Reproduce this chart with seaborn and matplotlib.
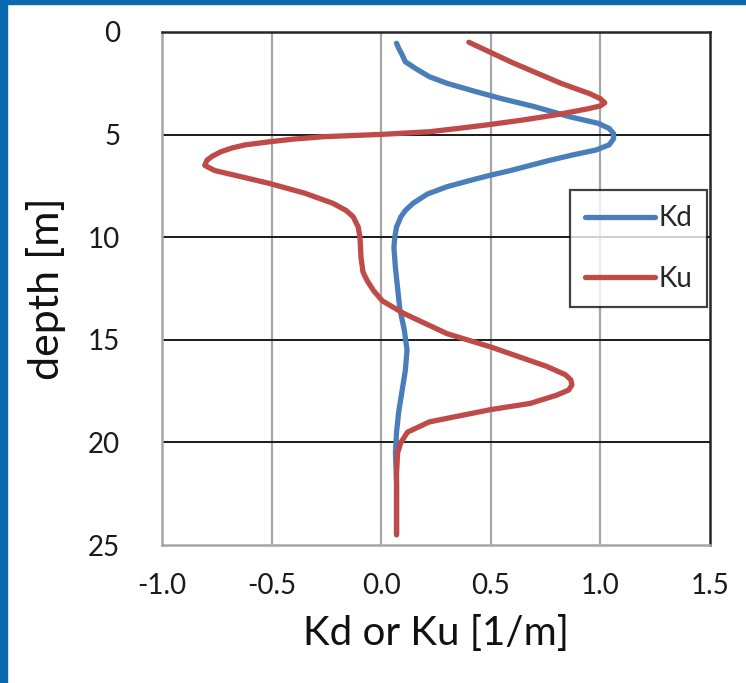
import matplotlib
matplotlib.use("Agg")
import matplotlib.pyplot as plt
from matplotlib.patches import Rectangle
import seaborn as sns
import pandas as pd

# Downwelling attenuation coefficient Kd versus depth
kd_depth = [0.55, 0.8, 1.1, 1.45, 1.8, 2.18, 2.5, 2.9, 3.25, 3.64, 4.13, 4.45, 4.7,
            4.95, 5.2, 5.5, 5.75, 6.0, 6.25, 6.5, 6.75, 7.0, 7.25, 7.54, 7.9,
            8.35, 8.7, 9.0, 9.5, 10.0, 10.5, 11.5, 12.5, 13.5, 14.5, 15.5, 16.5,
            17.5, 18.5, 19.5, 20.5, 22.0, 24.5]
kd_value = [0.07, 0.08, 0.095, 0.11, 0.16, 0.22, 0.30, 0.43, 0.55, 0.70, 0.86,
            0.99, 1.04, 1.06, 1.06, 1.04, 0.98, 0.87, 0.77, 0.68, 0.59, 0.49, 0.40,
            0.30, 0.21, 0.145, 0.11, 0.09, 0.07, 0.062, 0.058, 0.065, 0.075, 0.085,
            0.105, 0.118, 0.11, 0.095, 0.08, 0.07, 0.065, 0.07, 0.07]

# Upwelling attenuation coefficient Ku versus depth
ku_depth = [0.5, 1.0, 1.5, 2.0, 2.5, 3.0, 3.25, 3.45, 3.6, 3.75, 4.05, 4.3, 4.53,
            4.7, 4.86, 4.99, 5.1, 5.22, 5.35, 5.5, 5.65, 5.83, 6.05, 6.25, 6.5,
            6.75, 7.0, 7.38, 7.85, 8.35, 8.7, 9.0, 9.5, 10.0, 11.0, 11.7, 12.1,
            12.6, 13.1, 13.7, 14.2, 14.7, 15.35, 16.3, 16.7, 16.95, 17.2, 17.45,
            17.7, 18.1, 18.4, 19.0, 19.5, 20.0, 20.5, 21.5, 24.5]
ku_value = [0.40, 0.50, 0.60, 0.71, 0.82, 0.95, 1.0, 1.02, 1.0, 0.94, 0.79, 0.64,
            0.48, 0.35, 0.22, 0.0, -0.26, -0.40, -0.51, -0.62, -0.68, -0.73, -0.77,
            -0.795, -0.805, -0.76, -0.66, -0.51, -0.35, -0.22, -0.16, -0.128,
            -0.105, -0.097, -0.092, -0.083, -0.065, -0.035, 0.005, 0.10, 0.20,
            0.30, 0.50, 0.756, 0.84, 0.865, 0.87, 0.855, 0.80, 0.68, 0.50, 0.22,
            0.12, 0.09, 0.075, 0.07, 0.07]

x_ticks = [-1.0, -0.5, 0.0, 0.5, 1.0, 1.5]
y_ticks = [0, 5, 10, 15, 20, 25]

kd_df = pd.DataFrame({"depth": kd_depth, "k": kd_value})
ku_df = pd.DataFrame({"depth": ku_depth, "k": ku_value})

sns.set_theme(style="white")
plt.rcParams["font.family"] = ["Lato", "DejaVu Sans"]
plt.rcParams["axes.unicode_minus"] = False

fig = plt.figure(figsize=(7.46, 6.83), dpi=100)
fig.patch.set_facecolor("white")

# framing bars along the top and left edges
fig.patches.append(Rectangle((0, 1 - 4 / 683), 1, 4 / 683, transform=fig.transFigure,
                             color="#0868B0", zorder=0))
fig.patches.append(Rectangle((0, 0), 7 / 746, 1, transform=fig.transFigure,
                             color="#0868B0", zorder=0))

ax = fig.add_axes([162 / 746, 1 - 545 / 683, 548 / 746, 513 / 683])

blue = "#4A7EBB"
red = "#BE4B48"
line_kw = dict(sort=False, orient="y", estimator=None, linewidth=3.8,
               solid_capstyle="round", solid_joinstyle="round")
sns.lineplot(data=kd_df, x="k", y="depth", ax=ax, color=blue, label="Kd", **line_kw)
sns.lineplot(data=ku_df, x="k", y="depth", ax=ax, color=red, label="Ku", **line_kw)

ax.set_xlim(-1.0, 1.5)
ax.set_ylim(25, 0)
ax.set_xticks(x_ticks)
ax.set_xticklabels([f"{v:.1f}" for v in x_ticks])
ax.set_yticks(y_ticks)
ax.set_yticklabels([str(v) for v in y_ticks])

# vertical grid grey, horizontal grid black
for v in x_ticks[1:-1]:
    ax.axvline(v, color="#A6A6A6", linewidth=1.6, zorder=0.5)
for d in y_ticks[1:-1]:
    ax.axhline(d, color="#1A1A1A", linewidth=1.4, zorder=0.5)

ax.spines["top"].set_color("#262626")
ax.spines["right"].set_color("#262626")
ax.spines["left"].set_color("#A6A6A6")
ax.spines["bottom"].set_color("#A6A6A6")
for s in ax.spines.values():
    s.set_linewidth(1.8)
    s.set_visible(True)

ax.tick_params(axis="both", length=0, labelsize=20, colors="#1A1A1A")
ax.tick_params(axis="x", pad=20)
ax.tick_params(axis="y", pad=30)

ax.set_xlabel("Kd or Ku [1/m]", fontsize=29, labelpad=12, color="#111111")
ax.set_ylabel("depth [m]", fontsize=31, labelpad=16, color="#111111")

leg = ax.legend(loc="upper right", bbox_to_anchor=(0.995, 0.692), borderaxespad=0,
                fontsize=20, frameon=True, fancybox=False, edgecolor="#111111",
                handlelength=2.5, handletextpad=0.12, labelspacing=1.25,
                borderpad=0.55)
leg.get_frame().set_linewidth(1.6)

fig.savefig("out.png", dpi=100, facecolor="white")
